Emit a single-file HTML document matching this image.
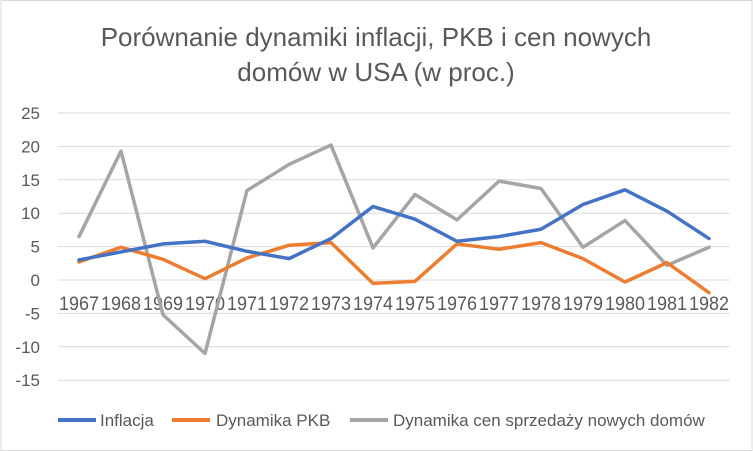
<!DOCTYPE html>
<html><head><meta charset="utf-8"><style>
body{margin:0;background:#fff}
svg{display:block;font-family:"Liberation Sans",sans-serif}
</style></head><body>
<svg id="c" width="753" height="451">
<rect x="1" y="0.5" width="751" height="450" fill="#fff" stroke="#d9d9d9"/>
<text x="376" y="46" text-anchor="middle" font-size="26" fill="#595959">Porównanie dynamiki inflacji, PKB i cen nowych</text>
<text x="376" y="81" text-anchor="middle" font-size="26" fill="#595959">domów w USA (w proc.)</text>
<g id="grid"></g><g id="lines"></g>
<g>
<line x1="58" y1="420" x2="96" y2="420" stroke="#4472c4" stroke-width="4"/>
<text x="100" y="426" font-size="17" fill="#595959">Inflacja</text>
<line x1="172" y1="420" x2="210" y2="420" stroke="#ed7d31" stroke-width="4"/>
<text x="216" y="426" font-size="17" fill="#595959">Dynamika PKB</text>
<line x1="350" y1="420" x2="388" y2="420" stroke="#a5a5a5" stroke-width="4"/>
<text x="393" y="426" font-size="17" fill="#595959">Dynamika cen sprzedaży nowych domów</text>
</g>
</svg>
<script>
const years=["1967","1968","1969","1970","1971","1972","1973","1974","1975","1976","1977","1978","1979","1980","1981","1982"];
const inflacja=[3.0,4.2,5.4,5.8,4.3,3.2,6.2,11.0,9.1,5.8,6.5,7.6,11.3,13.5,10.3,6.2];
const pkb=[2.7,4.9,3.1,0.2,3.3,5.2,5.6,-0.5,-0.2,5.4,4.6,5.6,3.2,-0.3,2.6,-1.9];
const domy=[6.5,19.3,-5.2,-11.0,13.4,17.3,20.2,4.8,12.8,9.0,14.8,13.7,4.9,8.9,2.2,4.9];
const yTicks=[25,20,15,10,5,0,-5,-10,-15];
const NS="http://www.w3.org/2000/svg";
const L=58,R=730,y0=280,pxPerUnit=33.4/5;
const step=(R-L)/years.length;
const x=i=>L+step*(i+0.5);
const y=v=>y0-v*pxPerUnit;
const g=document.getElementById('grid'),lg=document.getElementById('lines');
function mk(t,a,p){const e=document.createElementNS(NS,t);for(const k in a)e.setAttribute(k,a[k]);p.appendChild(e);return e;}
yTicks.forEach(v=>{
 const ln=mk('line',{x1:L,x2:R,y1:y(v),y2:y(v),stroke:'#d9d9d9','stroke-width':1},g);
 
 
 const t=mk('text',{x:40,y:y(v)+6,'text-anchor':'end','font-size':17,fill:'#595959'},g);
 t.textContent=v;
 
 
});
years.forEach((yr,i)=>{
 const t=mk('text',{x:x(i),y:y(0)+30,'text-anchor':'middle','font-size':19,fill:'#595959',textLength:40,lengthAdjust:'spacingAndGlyphs'},g);
 t.textContent=yr;
 
 
});
[[domy,'#a5a5a5','series-domy'],[pkb,'#ed7d31','series-pkb'],[inflacja,'#4472c4','series-inflacja']].forEach(([d,c,n])=>{
 const p=mk('polyline',{points:d.map((v,i)=>x(i)+','+y(v)).join(' '),fill:'none',stroke:c,'stroke-width':3.5,'stroke-linejoin':'round','stroke-linecap':'round'},lg);
 
 
});
</script>
</body></html>
